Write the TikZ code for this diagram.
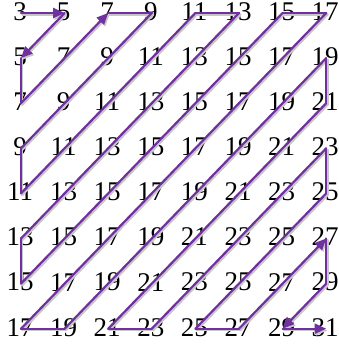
\documentclass[tikz,border=0pt]{standalone}
\usepackage{fontspec}
\setmainfont{Liberation Serif}
\usetikzlibrary{arrows.meta}
\definecolor{pathpurple}{RGB}{112,48,160}
\begin{document}
\begin{tikzpicture}[x=1pt,y=-1pt,
  num/.style={font=\fontsize{27}{27}\selectfont, inner sep=0pt, text=black},
  seg/.style={draw=pathpurple, line width=2.2pt, line cap=round, line join=round},
  shad/.style={draw=black!22, line width=2.2pt, line cap=round, transform canvas={shift={(1.3pt,-1.6pt)}}},
  tipped/.style={-{Triangle[length=11.5pt,width=10pt]}}]
\useasboundingbox (0,0) rectangle (339,345);
\foreach \r in {0,...,7} {
  \foreach \c in {0,...,7} {
    \pgfmathtruncatemacro\v{3+2*(\r+\c)}
    \node[num] (n-\r-\c) at ({20+43.6*\c},{11.5+45.1*\r}) {\v};
    \coordinate (p-\r-\c) at ({21+43.6*\c},{13+45.1*\r});
  }
}
\def\plainsegs{1-0/2-0, 0-2/0-3, 0-3/3-0, 3-0/4-0, 4-0/0-4, 0-4/0-5, 0-5/5-0, 5-0/6-0, 6-0/0-6, 0-6/0-7, 0-7/7-0, 7-0/7-1, 7-1/1-7, 1-7/2-7, 2-7/7-2, 7-2/7-3, 7-3/3-7, 3-7/4-7, 4-7/7-4, 7-4/7-5, 5-7/6-7}
\def\tipsegs{0-0/0-1, 0-1/1-0, 2-0/0-2, 7-5/5-7, 6-7/7-6, 7-6/7-7}
% shadows
\foreach \a/\b in \plainsegs { \draw[shad] (p-\a) -- (p-\b); }
\foreach \a/\b in \tipsegs { \draw[shad, tipped, fill=black!22] (p-\a) -- (p-\b); }
% path
\foreach \a/\b in \plainsegs { \draw[seg] (p-\a) -- (p-\b); }
\foreach \a/\b in \tipsegs { \draw[seg, tipped, fill=pathpurple] (p-\a) -- (p-\b); }
\end{tikzpicture}
\end{document}
